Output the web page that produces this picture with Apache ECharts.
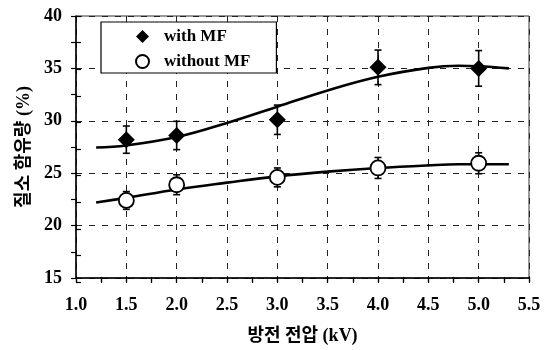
<!DOCTYPE html>
<html>
<head>
<meta charset="utf-8">
<script src="https://cdn.jsdelivr.net/npm/echarts@6/dist/echarts.min.js"></script>
<style>html,body{margin:0;padding:0;background:#fff}#c{width:546px;height:350px}</style>
</head>
<body>
<div id="c"></div>
<script>
// ---- data ----
var xValues = [1.5, 2.0, 3.0, 4.0, 5.0];
var withMF = [28.2, 28.6, 30.1, 35.1, 35.0];
var withMFErr = [1.3, 1.35, 1.4, 1.65, 1.7];
var withoutMF = [22.4, 23.9, 24.6, 25.5, 25.95];
var withoutMFErr = [0.85, 0.95, 0.9, 1.0, 1.0];
var fitX = [1.2, 1.5, 2.0, 2.5, 3.0, 3.5, 4.0, 4.5, 4.8, 5.0, 5.3];
var fitWith = [27.45, 27.65, 28.45, 29.8, 31.35, 32.9, 34.2, 35.05, 35.25, 35.2, 35.0];
var fitWithout = [22.2, 22.65, 23.45, 24.1, 24.7, 25.15, 25.5, 25.75, 25.85, 25.85, 25.85];
var seriesNames = ['with MF', 'without MF'];
var xTitle = '방전 전압 (kV)';
var yTitle = '질소 함유량 (%)';

var FONT = "'Liberation Serif', 'Times New Roman', 'Noto Sans CJK KR', serif";
var chart = echarts.init(document.getElementById('c'), null, {renderer: 'canvas'});

function pairs(xs, ys) { return xs.map(function (x, i) { return [x, ys[i]]; }); }
function errData(xs, ys, es) { return xs.map(function (x, i) { return [x, ys[i], es[i]]; }); }

function errRender(params, api) {
  var x = api.value(0), y = api.value(1), e = api.value(2);
  var t = api.coord([x, y + e]), b = api.coord([x, y - e]);
  var w = 3.5, st = {stroke: '#000', lineWidth: 1.6};
  return {type: 'group', children: [
    {type: 'line', shape: {x1: t[0], y1: t[1], x2: b[0], y2: b[1]}, style: st},
    {type: 'line', shape: {x1: t[0] - w, y1: t[1], x2: t[0] + w, y2: t[1]}, style: st},
    {type: 'line', shape: {x1: b[0] - w, y1: b[1], x2: b[0] + w, y2: b[1]}, style: st}
  ]};
}

var gridRect = {left: 76, right: 17, top: 16, bottom: 68};
var tickStyle = {color: '#000', width: 1.2};

chart.setOption({
  animation: false,
  backgroundColor: '#fff',
  grid: [
    Object.assign({show: true, borderColor: '#333', borderWidth: 1, backgroundColor: 'transparent'}, gridRect),
    Object.assign({}, gridRect)
  ],
  legend: {
    orient: 'vertical', left: 101, top: 22,
    data: seriesNames,
    itemWidth: 13, itemHeight: 13, itemGap: 8,
    padding: [6, 26, 3, 34],
    borderColor: '#000', borderWidth: 1.2, backgroundColor: '#fff',
    textStyle: {fontFamily: FONT, fontWeight: 'bold', fontSize: 17, color: '#000', lineHeight: 17,
      padding: [0, 0, 0, 10]}
  },
  xAxis: [{
    type: 'value', gridIndex: 0, min: 1, max: 5.5, interval: 0.5,
    name: xTitle, nameLocation: 'middle', nameGap: 49,
    nameTextStyle: {fontFamily: FONT, fontWeight: 'bold', fontSize: 18, color: '#000'},
    axisLine: {show: true, lineStyle: {color: '#000', width: 1.5}},
    axisTick: {show: true, inside: false, length: 5, lineStyle: tickStyle},
    minorTick: {show: true, splitNumber: 2, length: 5, lineStyle: tickStyle},
    axisLabel: {margin: 18, fontFamily: FONT, fontWeight: 'bold', fontSize: 18, color: '#000',
      formatter: function (v) { return v.toFixed(1); }},
    splitLine: {show: true, lineStyle: {color: '#222', width: 1, type: [6, 7]}}
  }, {
    type: 'value', gridIndex: 1, min: 1, max: 5.5, interval: 0.5,
    axisLine: {show: false},
    axisTick: {show: true, inside: true, length: 5, lineStyle: tickStyle},
    minorTick: {show: true, splitNumber: 2, length: 5, lineStyle: tickStyle},
    axisLabel: {show: false}, splitLine: {show: false}
  }],
  yAxis: [{
    type: 'value', gridIndex: 0, min: 15, max: 40, interval: 5,
    name: yTitle, nameLocation: 'middle', nameGap: 42,
    nameTextStyle: {fontFamily: FONT, fontWeight: 'bold', fontSize: 18, color: '#000'},
    axisLine: {show: true, lineStyle: {color: '#000', width: 1.5}},
    axisTick: {show: true, inside: false, length: 5, lineStyle: tickStyle},
    minorTick: {show: true, splitNumber: 2, length: 5, lineStyle: tickStyle},
    axisLabel: {margin: 14, fontFamily: FONT, fontWeight: 'bold', fontSize: 18, color: '#000'},
    splitLine: {show: true, lineStyle: {color: '#222', width: 1, type: [6, 7]}}
  }, {
    type: 'value', gridIndex: 1, min: 15, max: 40, interval: 5,
    axisLine: {show: false},
    axisTick: {show: true, inside: true, length: 5, lineStyle: tickStyle},
    minorTick: {show: true, splitNumber: 2, length: 5, lineStyle: tickStyle},
    axisLabel: {show: false}, splitLine: {show: false}
  }],
  series: [
    {type: 'line', name: 'fit1', data: pairs(fitX, fitWith), smooth: 0.4, showSymbol: false,
      lineStyle: {color: '#000', width: 2.6}, z: 2},
    {type: 'line', name: 'fit2', data: pairs(fitX, fitWithout), smooth: 0.4, showSymbol: false,
      lineStyle: {color: '#000', width: 2.6}, z: 2},
    {type: 'custom', name: 'err1', renderItem: errRender, data: errData(xValues, withMF, withMFErr), z: 3},
    {type: 'custom', name: 'err2', renderItem: errRender, data: errData(xValues, withoutMF, withoutMFErr), z: 3},
    {type: 'scatter', name: seriesNames[0], data: pairs(xValues, withMF), symbol: 'diamond', symbolSize: 17,
      itemStyle: {color: '#000', opacity: 1}, z: 4},
    {type: 'scatter', name: seriesNames[1], data: pairs(xValues, withoutMF), symbol: 'circle', symbolSize: 15,
      itemStyle: {color: '#fff', borderColor: '#000', borderWidth: 1.8, opacity: 1}, z: 4}
  ]
});
</script>
</body>
</html>
